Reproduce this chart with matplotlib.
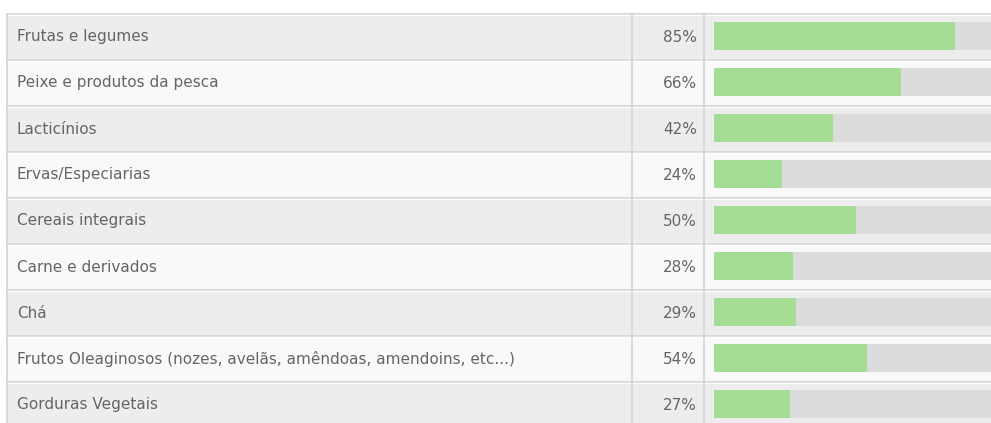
import matplotlib.pyplot as plt

# Survey results: share of answers per food group
labels = [
    "Frutas e legumes",
    "Peixe e produtos da pesca",
    "Lacticínios",
    "Ervas/Especiarias",
    "Cereais integrais",
    "Carne e derivados",
    "Chá",
    "Frutos Oleaginosos (nozes, avelãs, amêndoas, amendoins, etc...)",
    "Gorduras Vegetais",
]
values = [85, 66, 42, 24, 50, 28, 29, 54, 27]

W, H = 991, 423
top = 14          # table top edge (px)
row_h = 46        # row height (px)
left = 7          # table left edge (px)
col_pct = 632     # start of percentage column
col_bar = 704     # start of bar column
bar_x0 = 714      # where the bars start
bar_full = 283    # px width of a 100% bar

row_colors = ["#ededed", "#f9f9f9"]
line_color = "#d4d4d4"
text_color = "#656565"
track_color = "#dcdcdc"
green = "#a6dd96"

fig = plt.figure(figsize=(W / 100, H / 100), dpi=100)
fig.patch.set_facecolor("white")

# table axes: x in pixels, y in row units (row i spans i..i+1)
ax = fig.add_axes([0, 0, 1, 1])
ax.set_xlim(0, W)
y_top = -top / row_h
y_bot = (H - top) / row_h
ax.set_ylim(y_bot, y_top)
ax.axis("off")

n = len(labels)
for i in range(n):
    ax.barh(i + 0.5, W - left, left=left, height=1.0,
            color=row_colors[i % 2], linewidth=0, zorder=0)

# horizontal separators (grey line with a white highlight under it)
for i in range(n + 1):
    ax.axhline(i, xmin=left / W, xmax=1, color=line_color, lw=1.2, zorder=2)
    ax.axhline(i + 1.5 / row_h, xmin=left / W, xmax=1, color="white",
               lw=1.0, zorder=2)

# vertical column lines
for x in [left, col_pct, col_bar]:
    ax.plot([x, x], [0, y_bot], color=line_color, lw=1.2, zorder=2)

for i, (lab, v) in enumerate(zip(labels, values)):
    ax.text(17, i + 0.5, lab, ha="left", va="center", fontsize=11,
            color=text_color, family="DejaVu Sans", zorder=3)
    ax.text(697, i + 0.5, f"{v}%", ha="right", va="center", fontsize=11,
            color=text_color, family="DejaVu Sans", zorder=3)

# bar axes: x from 0 to 100 percent
axb = fig.add_axes([bar_x0 / W, 0, bar_full / W, 1])
axb.set_xlim(0, 100)
axb.set_ylim(y_bot, y_top)
axb.axis("off")
axb.patch.set_alpha(0)
ypos = [i + 22 / row_h for i in range(n)]
axb.barh(ypos, [100] * n, height=28 / row_h, color=track_color, linewidth=0)
axb.barh(ypos, values, height=28 / row_h, color=green, linewidth=0)

fig.savefig("out.png", dpi=100)
